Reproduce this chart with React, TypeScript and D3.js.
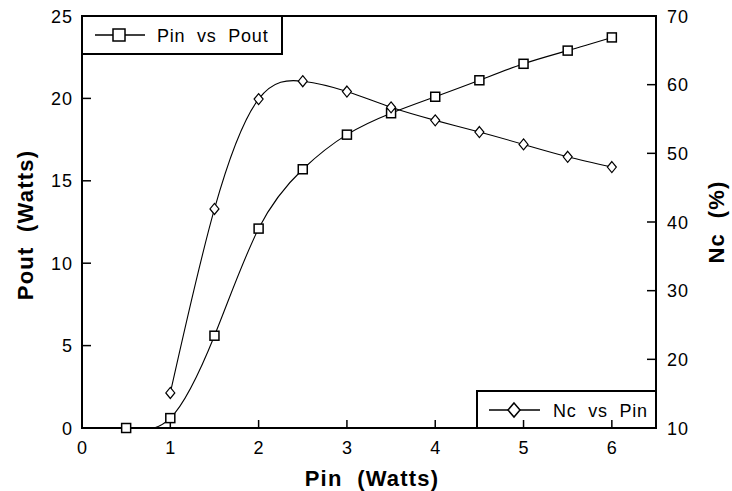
import React, { useEffect, useRef } from 'react';
import * as d3 from 'd3';

// Pin vs Pout (left axis, Watts)
const pinOut = [0.5, 1, 1.5, 2, 2.5, 3, 3.5, 4, 4.5, 5, 5.5, 6];
const pout = [0, 0.6, 5.6, 12.1, 15.7, 17.8, 19.1, 20.1, 21.1, 22.1, 22.9, 23.7];

// Nc vs Pin (right axis, %)
const pinNc = [1, 1.5, 2, 2.5, 3, 3.5, 4, 4.5, 5, 5.5, 6];
const nc = [15.1, 41.9, 57.9, 60.5, 59.0, 56.7, 54.8, 53.1, 51.3, 49.5, 48.0];

const xTicks = [0, 1, 2, 3, 4, 5, 6];
const yLeftTicks = [0, 5, 10, 15, 20, 25];
const yRightTicks = [10, 20, 30, 40, 50, 60, 70];

const FONT = "'Liberation Sans', Arial, Helvetica, sans-serif";

const App = () => {
  const svgRef = useRef<SVGSVGElement>(null);

  useEffect(() => {
    const width = 732;
    const height = 491;
    const left = 82, right = 656, top = 16, bottom = 428;

    const svg = d3.select(svgRef.current)
      .attr('width', width)
      .attr('height', height);
    svg.selectAll('*').remove();

    const x = d3.scaleLinear().domain([0, 6.5]).range([left, right]);
    const yL = d3.scaleLinear().domain([0, 25]).range([bottom, top]);
    const yR = d3.scaleLinear().domain([10, 70]).range([bottom, top]);

    svg.append('defs').append('clipPath').attr('id', 'plot-clip')
      .append('rect')
      .attr('x', left).attr('y', top)
      .attr('width', right - left).attr('height', bottom - top);

    // frame
    svg.append('rect')
      .attr('x', left).attr('y', top)
      .attr('width', right - left).attr('height', bottom - top)
      .attr('fill', 'none').attr('stroke', '#000').attr('stroke-width', 2);

    const tickStyle = (g: any) => g
      .attr('stroke', '#000').attr('stroke-width', 1.5);

    // x ticks (inward)
    svg.append('g').selectAll('line').data(xTicks).join('line')
      .attr('x1', d => x(d)).attr('x2', d => x(d))
      .attr('y1', bottom).attr('y2', bottom - 8)
      .call(tickStyle);
    svg.append('g').selectAll('text').data(xTicks).join('text')
      .attr('x', d => x(d)).attr('y', 454)
      .attr('text-anchor', 'middle')
      .attr('font-family', FONT).attr('font-size', 18)
      .text(d => d);

    // left ticks
    svg.append('g').selectAll('line').data(yLeftTicks).join('line')
      .attr('x1', left).attr('x2', left + 9)
      .attr('y1', d => yL(d)).attr('y2', d => yL(d))
      .call(tickStyle);
    svg.append('g').selectAll('text').data(yLeftTicks).join('text')
      .attr('x', 73).attr('y', d => yL(d) + 6.5)
      .attr('text-anchor', 'end')
      .attr('letter-spacing', 1)
      .attr('font-family', FONT).attr('font-size', 18)
      .text(d => d);

    // right ticks
    svg.append('g').selectAll('line').data(yRightTicks).join('line')
      .attr('x1', right).attr('x2', right - 9)
      .attr('y1', d => yR(d)).attr('y2', d => yR(d))
      .call(tickStyle);
    svg.append('g').selectAll('text').data(yRightTicks).join('text')
      .attr('x', 667).attr('y', d => yR(d) + 6.5)
      .attr('text-anchor', 'start')
      .attr('letter-spacing', 1)
      .attr('font-family', FONT).attr('font-size', 18)
      .text(d => d);

    // axis titles
    svg.append('text')
      .attr('x', 372).attr('y', 486)
      .attr('text-anchor', 'middle')
      .attr('font-family', FONT).attr('font-size', 22).attr('font-weight', 'bold')
      .attr('letter-spacing', 1.2)
      .style('white-space', 'pre')
      .text('Pin  (Watts)');
    svg.append('text')
      .attr('transform', 'translate(33,225) rotate(-90)')
      .attr('text-anchor', 'middle')
      .attr('font-family', FONT).attr('font-size', 22).attr('font-weight', 'bold')
      .attr('letter-spacing', 1.2)
      .style('white-space', 'pre')
      .text('Pout  (Watts)');
    svg.append('text')
      .attr('transform', 'translate(724,222) rotate(-90)')
      .attr('text-anchor', 'middle')
      .attr('font-family', FONT).attr('font-size', 22).attr('font-weight', 'bold')
      .attr('letter-spacing', 1.2)
      .style('white-space', 'pre')
      .text('Nc  (%)');

    // curves
    const plot = svg.append('g').attr('clip-path', 'url(#plot-clip)');
    const lineOut = d3.line<number>()
      .x((d, i) => x(pinOut[i]))
      .y(d => yL(d))
      .curve(d3.curveNatural);
    const lineNc = d3.line<number>()
      .x((d, i) => x(pinNc[i]))
      .y(d => yR(d))
      .curve(d3.curveNatural);

    plot.append('path').datum(pout)
      .attr('d', lineOut)
      .attr('fill', 'none').attr('stroke', '#000').attr('stroke-width', 1.1);
    plot.append('path').datum(nc)
      .attr('d', lineNc)
      .attr('fill', 'none').attr('stroke', '#000').attr('stroke-width', 1.1);

    const diamond = (cx: number, cy: number, w: number, h: number) =>
      `M${cx},${cy - h}L${cx + w},${cy}L${cx},${cy + h}L${cx - w},${cy}Z`;

    // markers
    svg.append('g').selectAll('rect').data(pout).join('rect')
      .attr('x', (d, i) => x(pinOut[i]) - 4.5)
      .attr('y', d => yL(d) - 4.5)
      .attr('width', 9).attr('height', 9)
      .attr('fill', '#fff').attr('stroke', '#000').attr('stroke-width', 1.5);
    svg.append('g').selectAll('path').data(nc).join('path')
      .attr('d', (d, i) => diamond(x(pinNc[i]), yR(d), 4.5, 5.5))
      .attr('fill', '#fff').attr('stroke', '#000').attr('stroke-width', 1.2);

    // legend: Pin vs Pout
    const lg1 = svg.append('g');
    lg1.append('rect')
      .attr('x', left).attr('y', top).attr('width', 200).attr('height', 38)
      .attr('fill', 'none').attr('stroke', '#000').attr('stroke-width', 2);
    lg1.append('line')
      .attr('x1', 95).attr('x2', 145).attr('y1', 35).attr('y2', 35)
      .attr('stroke', '#000').attr('stroke-width', 1.5);
    lg1.append('rect')
      .attr('x', 113).attr('y', 29).attr('width', 12).attr('height', 12)
      .attr('fill', '#fff').attr('stroke', '#000').attr('stroke-width', 1.5);
    lg1.append('text')
      .attr('x', 157).attr('y', 42)
      .attr('font-family', FONT).attr('font-size', 18)
      .attr('letter-spacing', 0.8)
      .style('white-space', 'pre')
      .text('Pin  vs  Pout');

    // legend: Nc vs Pin
    const lg2 = svg.append('g');
    lg2.append('rect')
      .attr('x', 477).attr('y', 391).attr('width', right - 477).attr('height', bottom - 391)
      .attr('fill', 'none').attr('stroke', '#000').attr('stroke-width', 2);
    lg2.append('line')
      .attr('x1', 489).attr('x2', 540).attr('y1', 410).attr('y2', 410)
      .attr('stroke', '#000').attr('stroke-width', 1.5);
    lg2.append('path')
      .attr('d', diamond(514, 410, 6, 7))
      .attr('fill', '#fff').attr('stroke', '#000').attr('stroke-width', 1.5);
    lg2.append('text')
      .attr('x', 553).attr('y', 417)
      .attr('font-family', FONT).attr('font-size', 18)
      .attr('letter-spacing', 0.8)
      .style('white-space', 'pre')
      .text('Nc  vs  Pin');
  }, []);

  return (
    <svg ref={svgRef} style={{ position: 'absolute', left: 0, top: 0, background: '#fff' }} />
  );
};

export default App;
